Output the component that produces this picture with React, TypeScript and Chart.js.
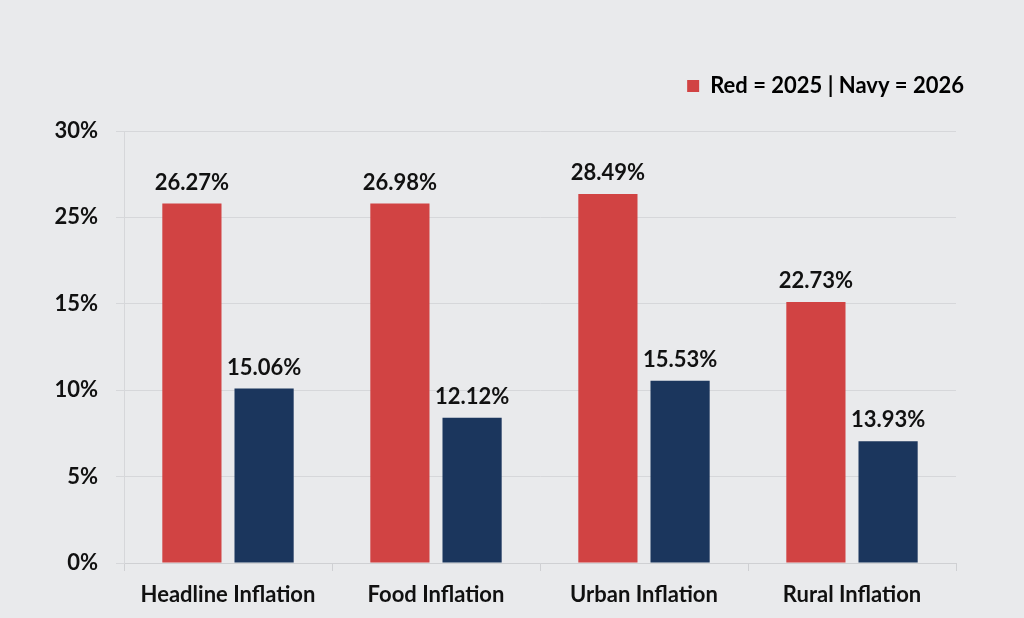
import React, { useEffect, useRef } from "react";
import { Chart, registerables } from "chart.js";

Chart.register(...registerables);

const categories = ["Headline Inflation", "Food Inflation", "Urban Inflation", "Rural Inflation"];
// bar heights as drawn against the evenly spaced axis (axis units)
const values2025 = [20.8, 20.8, 21.35, 15.1];
const values2026 = [10.1, 8.4, 10.55, 7.05];
// printed labels above bars
const labels2025 = ["26.27%", "26.98%", "28.49%", "22.73%"];
const labels2026 = ["15.06%", "12.12%", "15.53%", "13.93%"];
// y tick labels as printed (note the skipped 20%)
const yTickLabels = ["0%", "5%", "10%", "15%", "25%", "30%"];
const legendText = "Red = 2025 | Navy = 2026";

const RED = "#d14343";
const NAVY = "#1b365d";
const BG = "#e9eaec";
const FONT = "Lato";
const FS = 22;

const barLabelPlugin = {
  id: "barLabels",
  afterDatasetsDraw(chart: any) {
    const ctx = chart.ctx;
    ctx.save();
    ctx.font = `bold ${FS}px ${FONT}`;
    ctx.fillStyle = "#111";
    ctx.textAlign = "center";
    ctx.textBaseline = "bottom";
    chart.data.datasets.forEach((ds: any, di: number) => {
      const meta = chart.getDatasetMeta(di);
      const texts = di === 0 ? labels2025 : labels2026;
      meta.data.forEach((bar: any, i: number) => {
        ctx.fillText(texts[i], bar.x, bar.y - 10);
      });
    });
    ctx.restore();
  },
};

const bgPlugin = {
  id: "bg",
  beforeDraw(chart: any) {
    const ctx = chart.ctx;
    ctx.save();
    ctx.fillStyle = BG;
    ctx.fillRect(0, 0, chart.width, chart.height);
    ctx.restore();
  },
};

export default function App() {
  const ref = useRef<HTMLCanvasElement>(null);
  useEffect(() => {
    if (!ref.current) return;
    const chart = new Chart(ref.current, {
      type: "bar",
      data: {
        labels: categories,
        datasets: [
          { label: "2025", data: values2025, backgroundColor: RED, categoryPercentage: 0.694, barPercentage: 0.82, yAxisID: "y" },
          { label: "2026", data: values2026, backgroundColor: NAVY, categoryPercentage: 0.694, barPercentage: 0.82, yAxisID: "y" },
        ],
      },
      options: {
        animation: false,
        responsive: false,
        maintainAspectRatio: false,
        layout: { padding: { top: 65, left: 20, right: 50, bottom: 9 } },
        plugins: {
          tooltip: { enabled: false },
          title: {
            display: true,
            text: "",
            position: "top",
            weight: 500,
            padding: 0,
            font: { size: 24, lineHeight: 1 },
          },
          legend: {
            display: true,
            position: "top",
            align: "end",
            weight: 1000,
            labels: {
              color: "#111",
              font: { family: FONT, size: FS, weight: "bold" },
              boxWidth: 12,
              boxHeight: 12,
              padding: 10,
              generateLabels: () => [
                { text: legendText, fillStyle: RED, strokeStyle: RED, lineWidth: 0, hidden: false, datasetIndex: 0 },
              ],
            },
          },
        },
        scales: {
          x: {
            grid: { display: true, drawOnChartArea: false, drawTicks: true, tickLength: 8, color: "#cfd0d3", offset: true },
            border: { display: true, color: "#cfd0d3" },
            ticks: { color: "#111", font: { family: FONT, size: FS, weight: "bold" }, padding: 11 },
            afterFit: (s: any) => { s.height = 46; },
          },
          y: {
            min: 0,
            max: 25,
            grid: { color: "#d6d7da", tickLength: 8, drawTicks: true },
            border: { display: true, color: "#d6d7da" },
            ticks: {
              stepSize: 5,
              color: "#111",
              padding: 18,
              font: { family: FONT, size: FS, weight: "bold" },
              callback: (_v: any, i: number) => yTickLabels[i],
            },
            afterFit: (s: any) => { s.width = 104; },
          },
          spacer: {
            type: "linear",
            position: "right",
            display: true,
            grid: { display: false, drawTicks: false },
            border: { display: false },
            ticks: { display: false },
            afterFit: (s: any) => { s.width = 18; },
          },
        },
      },
      plugins: [bgPlugin, barLabelPlugin],
    });
    return () => chart.destroy();
  }, []);
  return (
    <div style={{ position: "fixed", left: 0, top: 0, width: 1024, height: 618, background: BG }}>
      <canvas ref={ref} width={1024} height={618} />
    </div>
  );
}
